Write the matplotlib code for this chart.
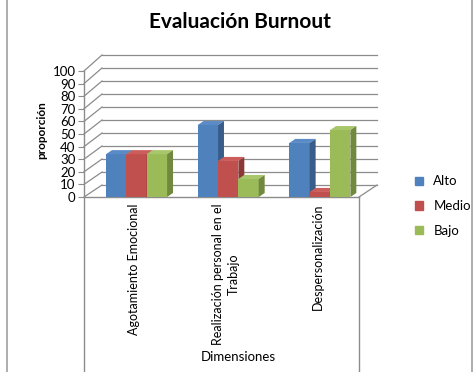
import numpy as np
import matplotlib.pyplot as plt
from matplotlib.patches import Polygon, Patch
from matplotlib.lines import Line2D

plt.rcParams['font.family'] = ['Lato', 'DejaVu Sans']

categories = ['Agotamiento Emocional', 'Realización personal en el\nTrabajo', 'Despersonalización']
series = ['Alto', 'Medio', 'Bajo']
alto = [34.0, 57.1, 42.9]
medio = [34.0, 28.6, 4.0]
bajo = [34.0, 14.3, 53.1]
yticks = list(range(0, 101, 10))

front = ['#4F81BD', '#C0504D', '#9BBB59']
side = ['#385D8A', '#8C3836', '#71893F']
top = ['#5B8BC6', '#CB5E5B', '#A8C66A']
grid_c = '#8C8C8C'

fig = plt.figure(figsize=(4.76, 3.72), dpi=100)
W, H = 476, 372
# front plane of the 3d box in pixels
x0, x1, yb, yt = 84, 359, 197, 71
ax = fig.add_axes([x0 / W, (H - yb) / H, (x1 - x0) / W, (yb - yt) / H])
ax.set_xlim(0, 3)
ax.set_ylim(0, 100)

# back wall offsets (data units)
wdx = 18 / ((x1 - x0) / 3)
def back(v):
    return 9.5 + v * 1.032

# back wall grid + side diagonals
for v in yticks:
    ax.plot([wdx, 3 + wdx], [back(v), back(v)], color=grid_c, lw=0.9, clip_on=False, zorder=1)
    ax.plot([0, wdx], [v, back(v)], color=grid_c, lw=0.9, clip_on=False, zorder=1)
# floor right edge
ax.plot([3, 3 + wdx], [0, back(0)], color=grid_c, lw=0.9, clip_on=False, zorder=1)

# bars with depth
bw = 0.222
bdx, bdy = 0.065, 3.2
vals = [alto, medio, bajo]
z = 3
for i in range(len(categories)):
    for j in range(3):
        left = i + 0.24 + j * bw
        v = vals[j][i]
        ax.bar(left, v, width=bw, align='edge', color=front[j], lw=0, zorder=z)
        ax.add_patch(Polygon([[left, v], [left + bdx, v + bdy], [left + bw + bdx, v + bdy], [left + bw, v]],
                             closed=True, color=top[j], lw=0, zorder=z, clip_on=False))
        ax.add_patch(Polygon([[left + bw, 0], [left + bw + bdx, bdy], [left + bw + bdx, v + bdy], [left + bw, v]],
                             closed=True, color=side[j], lw=0, zorder=z, clip_on=False))
        z += 1

for s in ax.spines.values():
    s.set_visible(False)
ax.set_xticks([])
ax.set_yticks(yticks)
ax.tick_params(axis='y', length=4, color=grid_c, labelsize=9.5, pad=2)

# box lines of the category area
lbot = -(H - yb) / (yb - yt)
ax.add_line(Line2D([0, 0], [1, lbot], transform=ax.transAxes, color=grid_c, lw=1, clip_on=False))
ax.add_line(Line2D([1, 1], [0, lbot], transform=ax.transAxes, color=grid_c, lw=1, clip_on=False))
ax.add_line(Line2D([0, 1], [0, 0], transform=ax.transAxes, color=grid_c, lw=1, clip_on=False))

for i, c in enumerate(categories):
    ax.text(i + 0.55, -5, c, rotation=90, ha='center', va='top', fontsize=9,
            multialignment='center', linespacing=1.35)

fig.text(238 / W, 1 - 357 / H, 'Dimensiones', ha='center', va='center', fontsize=9.5)
fig.text(42 / W, 1 - 130 / H, 'proporción', rotation=90, ha='center', va='center',
         fontsize=8.5, fontweight='bold')
fig.text(240 / W, 1 - 22 / H, 'Evaluación Burnout', ha='center', va='center',
         fontsize=15, fontweight='bold')

handles = [Patch(color=front[j], label=series[j]) for j in range(3)]
fig.legend(handles=handles, loc='center left', bbox_to_anchor=(403 / W, 1 - 206 / H),
           frameon=False, fontsize=9.5, handlelength=0.6, handleheight=0.6,
           labelspacing=0.95, handletextpad=0.8)

# outer border lines
fig.add_artist(Line2D([7 / W, 7 / W], [0, 1], color='#A0A0A0', lw=1.2))
fig.add_artist(Line2D([472 / W, 472 / W], [0, 1], color='#A0A0A0', lw=1.2))

fig.savefig('out.png', dpi=100)
